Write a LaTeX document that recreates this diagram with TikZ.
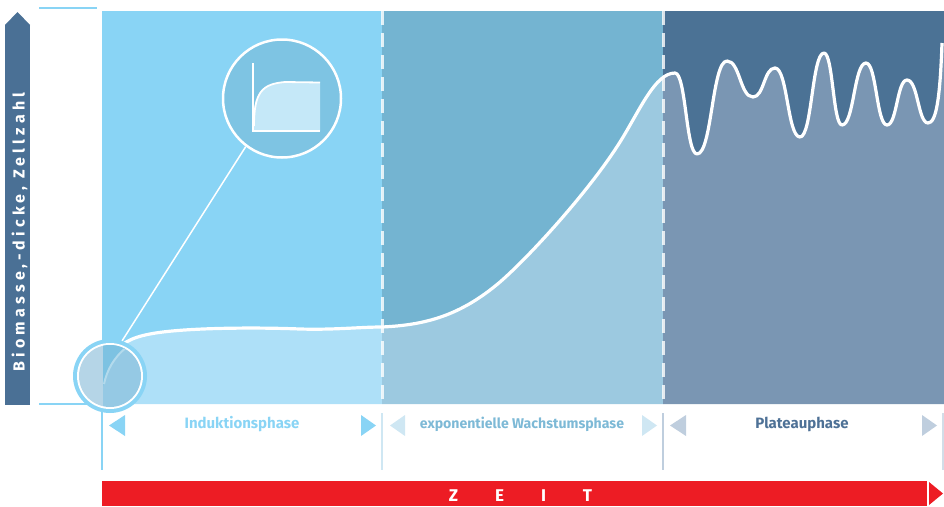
\documentclass[tikz,border=0pt]{standalone}
\usepackage{fontspec}
\setmainfont{Fira Sans}
\definecolor{axisbarc}{HTML}{4A7095}
\definecolor{pone}{HTML}{89D4F5}
\definecolor{ponelow}{HTML}{AEE0F8}
\definecolor{ptwo}{HTML}{74B4D1}
\definecolor{ptwolow}{HTML}{9CC9E0}
\definecolor{pthree}{HTML}{4B7295}
\definecolor{pthreelow}{HTML}{7A96B3}
\definecolor{trtwo}{HTML}{CFE7F3}
\definecolor{trthree}{HTML}{BFCEDE}
\definecolor{txttwo}{HTML}{7DB9D6}
\definecolor{txtthree}{HTML}{4E7196}
\definecolor{zred}{HTML}{ED1C24}
\definecolor{magfill}{HTML}{7EC4E3}
\definecolor{minifill}{HTML}{C5E8F8}
\definecolor{zleft}{HTML}{B5D5E7}
\definecolor{zright}{HTML}{95C9E4}
\definecolor{zdark}{HTML}{7DC2E2}
\definecolor{zfaint}{HTML}{B3DAEC}
\newcommand\growthcurve{(103,404) .. controls (104,360) and (112,341) .. (150,334)
 .. controls (180,328) and (250,327) .. (300,329)
 .. controls (335,330) and (360,327) .. (382,327)
 .. controls (425,325) and (460,316) .. (500,282)
 .. controls (530,256) and (590,190) .. (620,142)
 .. controls (640,110) and (655,73) .. (675,73)
 .. controls (686,73) and (686,154) .. (697,154)
 .. controls (712,154) and (712,61) .. (727,61)
 .. controls (740,61) and (740,97) .. (753,97)
 .. controls (764,97) and (764,68) .. (775,68)
 .. controls (787.5,68) and (787.5,137) .. (800,137)
 .. controls (812,137) and (812,53) .. (824,53)
 .. controls (833,53) and (833,125) .. (842,125)
 .. controls (854,125) and (854,63) .. (866,63)
 .. controls (876.5,63) and (876.5,125) .. (887,125)
 .. controls (897,125) and (897,80) .. (907,80)
 .. controls (918,80) and (918,123) .. (928,123)
 .. controls (936,123) and (940,100) .. (942,43)}
\tikzset{
  sepline/.style={draw=white, draw opacity=0.8, line width=3pt, dash pattern=on 14pt off 8pt},
  tickline/.style={line width=2pt},
  lab/.style={font=\bfseries\fontsize{15}{15}\selectfont, inner sep=0pt, anchor=center},
}
\begin{document}
\begin{tikzpicture}[x=1pt,y=-1pt]
\useasboundingbox (0,0) rectangle (944,506);
% y axis bar
\fill[axisbarc] (5,25) rectangle (30,405);
\fill[axisbarc] (5,25) -- (30,25) -- (17.5,12) -- cycle;
\node[rotate=90, anchor=base, text=white, inner sep=0pt,
  font=\bfseries\fontsize{16}{16}\selectfont\addfontfeature{LetterSpace=26}] (ylab) at (24.5,232) {Biomasse,-dicke, Zellzahl};
\draw[pone, tickline] (39,8) -- (97,8);
% panels
\fill[pone] (102,11) rectangle (382,404);
\fill[ptwo] (382,11) rectangle (663,404);
\fill[pthree] (663,11) rectangle (944,404);
\begin{scope}
 \clip (102,0) rectangle (382,404);
 \fill[ponelow] \growthcurve -- (944,404) -- (103,404) -- cycle;
\end{scope}
\begin{scope}
 \clip (382,0) rectangle (663,404);
 \fill[ptwolow] \growthcurve -- (944,404) -- (103,404) -- cycle;
\end{scope}
\begin{scope}
 \clip (663,0) rectangle (944,404);
 \fill[pthreelow] \growthcurve -- (944,43) -- (944,404) -- (103,404) -- cycle;
\end{scope}
\draw[sepline] (382,11) -- (382,404);
\draw[sepline] (663,11) -- (663,404);
\draw[white, line width=3.2pt, line join=round] \growthcurve;
% axis lines
\draw[pone, tickline] (39,404) -- (90,404);
\draw[pone, tickline] (102,395) -- (102,470);
% zoom circle
\node[circle, fill=pone, minimum size=74pt, inner sep=0pt] (zoomc) at (110,376) {};
\fill[white] (110,376) circle[radius=33pt];
\begin{scope}
 \clip (110,376) circle[radius=31pt];
 \fill[zleft] (70,335) rectangle (103,420);
 \fill[zright] (103,335) rectangle (150,420);
 \fill[zdark] (103,335) -- (103,386) .. controls (107,370) and (114,357) .. (128,346) -- (128,335) -- cycle;
 \draw[zfaint, line width=2pt] (104,384) .. controls (107,370) and (114,357) .. (127,347);
\end{scope}
% magnifier
\node[circle, draw=white, line width=2.5pt, fill=magfill, minimum size=118pt, inner sep=0pt] (mag) at (282,98.5) {};
\fill[minifill] (253,131) -- (253,122) .. controls (254,92) and (262,84) .. (285,82) -- (320,82.5) -- (320,131) -- cycle;
\draw[white, line width=1.5pt] (253,63) -- (253,131) -- (320,131);
\draw[white, line width=1.8pt] (254,126) .. controls (254,92) and (262,84) .. (285,82) -- (320,82.5);
\draw[white, line width=1.5pt] (mag.233) -- (zoomc.71);
% label row
\draw[trtwo, tickline] (382,413) -- (382,470);
\draw[trthree, tickline] (663,413) -- (663,470);
\draw[trthree!70!white, tickline] (943,413) -- (943,470);
\fill[pone] (109,425.5) -- (125,415) -- (125,436) -- cycle;
\fill[pone] (376,425.5) -- (361,415) -- (361,436) -- cycle;
\fill[trtwo] (390,425.5) -- (405,415) -- (405,436) -- cycle;
\fill[trtwo] (657,425.5) -- (642,415) -- (642,436) -- cycle;
\fill[trthree] (670,425.5) -- (686,415) -- (686,436) -- cycle;
\fill[trthree] (937,425.5) -- (922,415) -- (922,436) -- cycle;
\node[lab, text=pone] (lone) at (242,424) {Induktionsphase};
\node[lab, text=txttwo, font=\bfseries\fontsize{14.1}{15}\selectfont] (ltwo) at (522,424) {exponentielle Wachstumsphase};
\node[lab, text=txtthree] (lthree) at (802,424) {Plateauphase};
% time bar
\fill[zred] (102,481) rectangle (927,506);
\fill[zred] (929,482) -- (943,493.5) -- (929,505) -- cycle;
\node[text=white, inner sep=0pt, font=\bfseries\fontsize{17}{17}\selectfont] (zeit) at (520.5,495.5) {Z\hspace{37pt}E\hspace{37pt}I\hspace{37pt}T};
\end{tikzpicture}
\end{document}
